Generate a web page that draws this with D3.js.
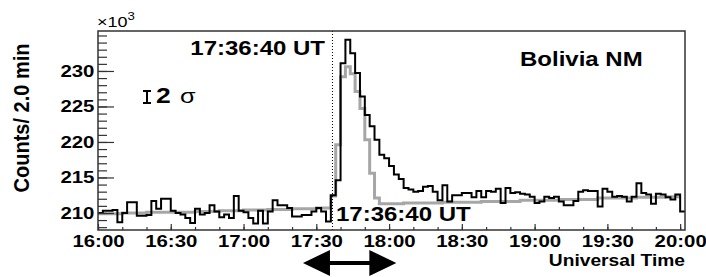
<!DOCTYPE html>
<html>
<head>
<meta charset="utf-8">
<script src="https://cdn.jsdelivr.net/npm/d3@7"></script>
<style>
html, body { margin: 0; padding: 0; background: #fff; }
svg { display: block; font-family: "Liberation Sans", Arial, Helvetica, sans-serif; }
</style>
</head>
<body>
<svg id="chart" width="706" height="277"></svg>
<script>
// counts per 2-min bin, in units of 10^3, starting 16:00 UT
const binMinutes = 2;
const blackCounts = [
    210.0, 210.3, 210.3, 210.4, 208.7, 210.0, 211.5, 211.5, 209.6, 209.6,
    209.7, 211.7, 210.6, 212.0, 212.0, 210.3, 210.0, 209.8, 209.3, 208.6,
    210.6, 209.8, 210.0, 211.1, 210.2, 209.4, 209.8, 209.3, 212.4, 210.3,
    210.1, 209.3, 208.5, 210.3, 208.5, 210.2, 211.8, 211.1, 211.1, 210.7,
    209.5, 209.5, 209.7, 209.7, 210.2, 210.7, 210.2, 208.8, 212.5, 214.6,
    231.1, 234.4, 232.5, 229.7, 226.4, 223.8, 222.2, 220.3, 218.2, 217.7,
    216.6, 215.4, 214.8, 213.5, 213.3, 213.0, 213.1, 213.7, 213.8, 213.0,
    211.8, 213.9, 211.6, 212.5, 212.5, 212.8, 212.8, 212.2, 213.1, 212.2,
    213.1, 213.0, 213.4, 211.4, 213.5, 212.8, 212.9, 212.7, 212.6, 212.3,
    211.4, 211.6, 212.3, 212.1, 212.3, 211.6, 211.1, 211.1, 211.7, 213.0,
    213.2, 213.1, 213.1, 210.9, 213.4, 213.0, 212.3, 212.4, 212.3, 211.6,
    212.3, 214.2, 212.8, 212.6, 211.3, 212.7, 212.6, 212.2, 211.9, 212.6,
    210.2
];
const grayCounts = [
    209.9, 209.9, 209.9, 209.9, 209.9, 210.0, 210.0, 210.0, 210.0, 210.0,
    210.1, 210.1, 210.1, 210.1, 210.1, 210.1, 210.1, 210.1, 210.1, 210.1,
    210.2, 210.2, 210.2, 210.2, 210.2, 210.3, 210.3, 210.3, 210.3, 210.3,
    210.4, 210.4, 210.4, 210.4, 210.4, 210.5, 210.5, 210.5, 210.5, 210.5,
    210.6, 210.6, 210.6, 210.6, 210.6, 210.7, 210.7, 210.7, 212.4, 219.6,
    229.2, 230.6, 229.6, 227.1, 224.7, 220.3, 215.6, 212.1, 211.3, 211.3,
    211.3, 211.3, 211.3, 211.4, 211.4, 211.4, 211.4, 211.4, 211.4, 211.4,
    211.4, 211.5, 211.5, 211.5, 211.5, 211.5, 211.5, 211.5, 211.5, 211.6,
    211.6, 211.6, 211.6, 211.6, 211.6, 211.6, 211.6, 211.8, 211.8, 211.8,
    211.8, 211.8, 211.8, 211.8, 211.8, 211.9, 211.9, 211.9, 211.9, 211.9,
    211.9, 211.9, 211.9, 212.1, 212.1, 212.1, 212.1, 212.1, 212.1, 212.1,
    212.1, 212.2, 212.2, 212.2, 212.2, 212.2, 212.2, 212.3, 212.3, 212.3
];

const xTickMinutes = [0, 30, 60, 90, 120, 150, 180, 210, 240];
const xTickLabels = ['16:00', '16:30', '17:00', '17:30', '18:00', '18:30', '19:00', '19:30', '20:00'];
const yTickValues = [210, 215, 220, 225, 230];

const onsetMinute = 96 + 40 / 60;      // 17:36:40 UT
const onsetLabel = '17:36:40 UT';
const arrowMinutes = [84.5, 123];      // double arrow under the axis

const SX = 1.2;  // reference text is stretched horizontally

const svg = d3.select('#chart');
const frame = { left: 98, top: 31, right: 685, bottom: 230 };

const x = d3.scaleLinear().domain([0, 242]).range([frame.left, frame.right]);
const y = d3.scaleLinear().domain([207.6, 235.63]).range([frame.bottom, frame.top]);

function addText(x0, y0, str, size, weight, anchor) {
    return svg.append('text')
        .attr('transform', `translate(${x0},${y0}) scale(${SX},1)`)
        .attr('font-size', size)
        .attr('font-weight', weight)
        .attr('text-anchor', anchor)
        .attr('fill', '#000')
        .text(str);
}

// histograms as steps
function stepPoints(values) {
    const pts = values.map((v, i) => [i * binMinutes, v]);
    pts.push([values.length * binMinutes, values[values.length - 1]]);
    return pts;
}
const line = d3.line()
    .x(d => x(d[0]))
    .y(d => y(d[1]))
    .curve(d3.curveStepAfter);

svg.append('path')
    .attr('d', line(stepPoints(grayCounts)))
    .attr('fill', 'none')
    .attr('stroke', '#a6a6a6')
    .attr('stroke-width', 3);

svg.append('path')
    .attr('d', line(stepPoints(blackCounts)))
    .attr('fill', 'none')
    .attr('stroke', '#000')
    .attr('stroke-width', 2);

// onset marker
svg.append('line')
    .attr('x1', x(onsetMinute)).attr('x2', x(onsetMinute))
    .attr('y1', frame.top).attr('y2', frame.bottom)
    .attr('stroke', '#000')
    .attr('stroke-width', 1)
    .attr('stroke-dasharray', '1,2');

// frame
svg.append('rect')
    .attr('x', frame.left).attr('y', frame.top)
    .attr('width', frame.right - frame.left)
    .attr('height', frame.bottom - frame.top)
    .attr('fill', 'none')
    .attr('stroke', '#333')
    .attr('stroke-width', 1.5);

// x axis
const xMinor = d3.range(0, 241, 10);
svg.append('g')
    .attr('transform', `translate(0,${frame.bottom})`)
    .call(d3.axisBottom(x).tickValues(xMinor).tickSize(-3).tickFormat(''))
    .call(g => g.select('.domain').remove());

const xAxis = svg.append('g')
    .attr('transform', `translate(0,${frame.bottom})`)
    .call(d3.axisBottom(x).tickValues(xTickMinutes).tickSize(-6).tickPadding(5)
        .tickFormat((d, i) => xTickLabels[i]))
    .call(g => g.select('.domain').remove());
xAxis.selectAll('text')
    .attr('font-size', 17)
    .attr('font-weight', 'bold')
    .attr('font-family', '"Liberation Sans", Arial, sans-serif')
    .attr('fill', '#000')
    .attr('transform', `scale(${SX},1)`);

// y axis
const yMinor = d3.range(208, 236, 1);
svg.append('g')
    .attr('transform', `translate(${frame.left},0)`)
    .call(d3.axisLeft(y).tickValues(yMinor).tickSize(-9).tickFormat(''))
    .call(g => g.select('.domain').remove());

const yAxis = svg.append('g')
    .attr('transform', `translate(${frame.left},0)`)
    .call(d3.axisLeft(y).tickValues(yTickValues).tickSize(-16).tickPadding(3))
    .call(g => g.select('.domain').remove());
yAxis.selectAll('text')
    .attr('font-size', 17)
    .attr('font-weight', 'bold')
    .attr('font-family', '"Liberation Sans", Arial, sans-serif')
    .attr('fill', '#000')
    .attr('transform', `scale(${SX},1)`);
svg.selectAll('.tick line').attr('stroke', '#333').attr('stroke-width', 1.2);

// exponent
const expo = svg.append('text')
    .attr('transform', `translate(97,27) scale(${SX},1)`)
    .attr('font-size', 15)
    .attr('fill', '#000');
expo.append('tspan').text('\u00d710');
expo.append('tspan').attr('font-size', 11).attr('dy', -7).text('3');

// axis titles
svg.append('text')
    .attr('transform', `translate(29,118) rotate(-90) scale(1,1.1)`)
    .attr('font-size', 20)
    .attr('font-weight', 'bold')
    .attr('text-anchor', 'middle')
    .attr('fill', '#000')
    .text('Counts/ 2.0 min');
addText(frame.right, 266, 'Universal Time', 16, 'bold', 'end');

// labels inside the frame
addText(520, 66, 'Bolivia NM', 20, 'bold', 'start');
addText(325, 55, onsetLabel, 20, 'bold', 'end');
addText(336, 221, onsetLabel, 20, 'bold', 'start');

// 2 sigma marker
const eb = svg.append('g').attr('stroke', '#000').attr('stroke-width', 2);
eb.append('line').attr('x1', 147).attr('x2', 147).attr('y1', 91).attr('y2', 103);
eb.append('line').attr('x1', 143).attr('x2', 151).attr('y1', 91).attr('y2', 91);
eb.append('line').attr('x1', 143).attr('x2', 151).attr('y1', 103).attr('y2', 103);
addText(156, 103, '2', 22, 'bold', 'start');
addText(180, 103, '\u03c3', 21, 'normal', 'start');

// double arrow below the axis
const ax1 = x(arrowMinutes[0]), ax2 = x(arrowMinutes[1]);
const ay = 263, head = 27, hh = 13, sh = 2;
svg.append('path')
    .attr('d', `M${ax1},${ay} L${ax1 + head},${ay - hh} L${ax1 + head},${ay - sh} L${ax2 - head},${ay - sh}
        L${ax2 - head},${ay - hh} L${ax2},${ay} L${ax2 - head},${ay + hh} L${ax2 - head},${ay + sh}
        L${ax1 + head},${ay + sh} L${ax1 + head},${ay + hh} Z`)
    .attr('fill', '#000');
</script>
</body>
</html>
